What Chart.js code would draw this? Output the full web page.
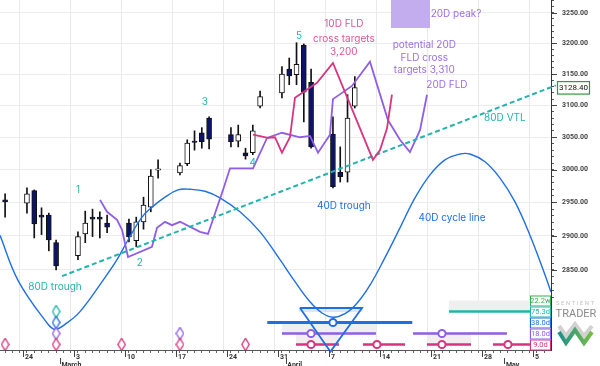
<!DOCTYPE html>
<html>
<head>
<meta charset="utf-8">
<script src="https://cdn.jsdelivr.net/npm/chart.js@4.4.1/dist/chart.umd.min.js"></script>
<style>
html, body { margin: 0; padding: 0; background: #fff; }
#wrap { width: 600px; height: 366px; position: relative; }
</style>
</head>
<body>
<div id="wrap"><canvas id="chart" width="600" height="366"></canvas></div>
<script>
// Days are counted from Mon 24 Feb 00:00, candles sit at mid-day
const candleDays = [-3, 0, 1, 2, 3, 4, 7, 8, 9, 10, 11, 14, 15, 16, 17, 18, 21, 22, 23, 24, 25, 28, 29, 30, 31, 32, 35, 36, 37, 38, 39, 42, 43, 44, 45];
const opens  = [2954, 2949, 2968, 2931, 2931, 2890, 2871, 2903, 2928, 2928, 2919, 2919, 2893, 2921, 2943, 2999, 2995, 3009, 3044, 3057, 3080, 3054, 3044, 3026, 3026, 3099, 3120, 3158, 3149, 3197, 3137, 3055, 2996, 2996, 3099];
const highs  = [2963, 2972, 2969, 2942, 2934, 2894, 2906, 2937, 2940, 2936, 2931, 2925, 2928, 2958, 3000, 3015, 3010, 3046, 3060, 3065, 3082, 3065, 3069, 3033, 3069, 3123, 3162, 3176, 3201, 3199, 3158, 3082, 3035, 3117, 3146];
const lows   = [2928, 2934, 2897, 2902, 2878, 2850, 2865, 2890, 2899, 2897, 2905, 2891, 2884, 2910, 2936, 2987, 2992, 3006, 3030, 3033, 3032, 3035, 3035, 3016, 3023, 3096, 3112, 3133, 3133, 3074, 3033, 2972, 2981, 2981, 3096];
const closes = [2951, 2963, 2918, 2928, 2894, 2856, 2899, 2919, 2925, 2925, 2913, 2899, 2921, 2946, 2990, 3001, 3006, 3041, 3042, 3043, 3047, 3043, 3054, 3021, 3060, 3114, 3150, 3147, 3166, 3121, 3035, 2974, 2989, 3080, 3128.4];

// 40D cycle line
const cycleDays   = [-3.2, -0.73, 3.25, 4.35, 6.0, 7.78, 10.94, 12.86, 14.37, 16.29, 17.67, 19.45, 21.23, 22.88, 24.94, 26.99, 29.74, 32.49, 35.23, 37.29, 39.35, 41.0, 42.5, 44.15, 45.8, 47.58, 49.64, 51.7, 53.76, 55.82, 57.88, 59.94, 61.31, 63.37, 65.43, 67.49, 69.54, 71.6, 72.43];
const cycleValues = [2901, 2835, 2774, 2765, 2774, 2790, 2835, 2865, 2894, 2928, 2943, 2958, 2969, 2970, 2967, 2957, 2936, 2906, 2865, 2833, 2804, 2788, 2782, 2787, 2802, 2828, 2868, 2912, 2957, 2992, 3015, 3024, 3024, 3012, 2987, 2951, 2901, 2843, 2818];

// 20D FLD
const fld20Days   = [10.53, 11.49, 12.86, 13.55, 14.37, 17.66, 18.35, 19.45, 20.41, 21.51, 24.25, 25.35, 27.41, 28.37, 31.53, 33.45, 35.5, 37.98, 39.35, 40.45, 42.09, 42.5, 45.11, 47.58, 50.05, 51.7, 53.07, 54.45, 55.41];
const fld20Values = [2954, 2936, 2924, 2909, 2869, 2884, 2912, 2921, 2916, 2921, 2906, 2903, 2969, 3002, 3002, 3049, 3057, 3050, 3052, 3026, 3054, 3110, 3131, 3170, 3077, 3046, 3027, 3061, 3117];

// 10D FLD
const fld10Days   = [31.53, 33.58, 34.54, 35.5, 36.6, 37.29, 40.31, 42.5, 46.21, 47.99, 48.96, 49.92, 50.6];
const fld10Values = [3054, 3049, 3050, 3026, 3050, 3112, 3136, 3168, 3064, 3015, 3030, 3064, 3117];

// 80D valid trend line (start, end)
const vtlDays   = [5.31, 73.11];
const vtlValues = [2841, 3132];

// "20D peak?" zone
const peakZoneDays   = [50.47, 55.82];
const peakZoneValues = [3225, 3272];

// cycle markers (bottom panel): [from, to, centre]
const pinkSpans   = [[37.43, 43.33, 39.49], [46.62, 52.39, 48.54], [55.41, 61.45, 57.46], [64.47, 69.8, 66.52]];
const purpleSpans = [[35.5, 48.4, 39.49], [53.49, 66.39, 57.46]];
const blueSpans   = [[33.49, 53.39, 42.5]];
const tealSpans   = [[58.43, 72.4, null]];
const shadedSpans = [[35.5, 48.4, 1], [37.43, 43.33, 0], [55.41, 61.45, 0], [58.43, 69.8, 3]];
const pinkTroughs   = [-2.5, 4.5, 13.5, 21.5, 30.5];
const purpleTroughs = [4.5, 21.5];
const blueTroughs   = [4.5];
const tealTroughs   = [4.5];
const triangleDays  = [37.98, 46.49, 42.16, 37.98];
const triangleRows  = [3.32, 3.32, -0.65, 3.32];
const periodLabels  = ['22.2w', '75.3d', '38.0d', '18.0d', '9.0d'];

// axis labels
const weekDays    = [0, 7, 14, 21, 28, 35, 42, 49, 56, 63, 70];
const weekLabels  = ['24', '3', '10', '17', '24', '31', '7', '14', '21', '28', '5'];
const monthDays   = [5, 36, 66];
const monthLabels = ['March', 'April', 'May'];
const lastPrice = closes[closes.length - 1];

const xMin = -3.2, xMax = 72.43;
const yMin = 2735.8, yMax = 3271.6;

const TEAL = '#22b3ad', BLUE = '#1f6fe3', PINK = '#d8347f', PURPLE = '#8f5de6', GREEN = '#35ad55';
const rowColors = [GREEN, TEAL, BLUE, PURPLE, PINK];

function pts(xs, ys) { return xs.map((x, i) => ({x: x, y: ys[i]})); }

function spanLine(spans, row) {
    const out = [];
    spans.forEach(s => {
        out.push({x: s[0], y: row}, {x: s[1], y: row}, {x: s[1] + 0.01, y: null});
    });
    return out;
}

function diamond(color) {
    const c = document.createElement('canvas');
    c.width = 9; c.height = 14;
    const g = c.getContext('2d');
    g.beginPath();
    g.moveTo(4.5, 0.8); g.lineTo(8.2, 7); g.lineTo(4.5, 13.2); g.lineTo(0.8, 7); g.closePath();
    g.fillStyle = '#fff'; g.fill();
    g.lineWidth = 1.3; g.strokeStyle = color; g.stroke();
    return c;
}

// scales must not reserve room for half-labels at their ends
function noPadding(s) {
    s.paddingTop = 0; s.paddingBottom = 0; s.paddingLeft = 0; s.paddingRight = 0;
}

const candleColors = closes.map((c, i) => c >= opens[i] ? '#ffffff' : '#0c1466');

const datasets = [
    // candles
    {
        type: 'bar', label: 'wick', order: 6, grouped: false, barThickness: 1,
        backgroundColor: '#111',
        data: candleDays.map((d, i) => ({x: d + 0.5, y: [lows[i], highs[i]]}))
    },
    {
        type: 'bar', label: 'body', order: 5, grouped: false, barThickness: 5,
        backgroundColor: candleColors, borderColor: '#111', borderWidth: 1, borderSkipped: false,
        data: candleDays.map((d, i) => ({x: d + 0.5, y: [Math.min(opens[i], closes[i]), Math.max(opens[i], closes[i])]}))
    },
    // peak zone
    {
        type: 'line', order: 9, data: pts(peakZoneDays, [peakZoneValues[1], peakZoneValues[1]]),
        borderWidth: 0, pointRadius: 0, backgroundColor: '#c4adef', fill: {value: peakZoneValues[0]}
    },
    {
        type: 'line', label: '40D cycle line', order: 3, data: pts(cycleDays, cycleValues),
        borderColor: BLUE, borderWidth: 1.4, pointRadius: 0, tension: 0.4, fill: false
    },
    {
        type: 'line', label: '80D VTL', order: 2, data: pts(vtlDays, vtlValues), clip: 8,
        borderColor: TEAL, borderWidth: 2, borderDash: [5, 3], pointRadius: 0, fill: false
    },
    {
        type: 'line', label: '20D FLD', order: 2, data: pts(fld20Days, fld20Values),
        borderColor: PURPLE, borderWidth: 1.8, pointRadius: 0, tension: 0, fill: false
    },
    {
        type: 'line', label: '10D FLD', order: 1, data: pts(fld10Days, fld10Values),
        borderColor: PINK, borderWidth: 1.8, pointRadius: 0, tension: 0, fill: false
    }
];

// shaded boxes in the bottom panel
shadedSpans.forEach(s => {
    datasets.push({
        type: 'line', order: 10, yAxisID: 'y2', data: [{x: s[0], y: s[2] + 1}, {x: s[1], y: s[2] + 1}],
        borderWidth: 0, pointRadius: 0, backgroundColor: '#efefef', fill: {value: s[2]}
    });
});
datasets.push({
    type: 'line', order: 9, yAxisID: 'y2', data: [{x: 37.8, y: 3.41}, {x: 46.6, y: 3.41}],
    borderWidth: 0, pointRadius: 0, backgroundColor: 'rgba(31,111,227,0.16)', fill: {value: 2.95}
});

[[pinkSpans, 0, PINK], [purpleSpans, 1, PURPLE], [blueSpans, 2, BLUE], [tealSpans, 3, TEAL]].forEach(r => {
    datasets.push({
        type: 'line', order: 4, yAxisID: 'y2', data: spanLine(r[0], r[1]), spanGaps: false,
        borderColor: r[2], borderWidth: r[1] === 2 ? 3 : 2.4, pointRadius: 0, fill: false
    });
    const centres = r[0].filter(s => s[2] !== null).map(s => ({x: s[2], y: r[1]}));
    datasets.push({
        type: 'scatter', order: 0, yAxisID: 'y2', data: centres,
        pointStyle: 'circle', pointRadius: 3.6, pointBorderWidth: 2,
        pointBorderColor: r[2], pointBackgroundColor: '#fff'
    });
});

[[pinkTroughs, 0, PINK], [purpleTroughs, 1, PURPLE], [blueTroughs, 2, BLUE], [tealTroughs, 3, TEAL]].forEach(r => {
    datasets.push({
        type: 'scatter', order: 0, yAxisID: 'y2', data: r[0].map(d => ({x: d, y: r[1]})),
        pointStyle: diamond(r[2])
    });
});

datasets.push({
    type: 'line', order: 3, yAxisID: 'y2', data: pts(triangleDays, triangleRows), clip: 6,
    borderColor: BLUE, borderWidth: 1.8, pointRadius: 0, tension: 0, fill: false
});

// text placed in data coordinates
const notes = [
    {t: '1', d: 7.5, v: 2969, c: TEAL},
    {t: '2', d: 16.0, v: 2860, c: TEAL},
    {t: '3', d: 24.9, v: 3105, c: TEAL},
    {t: '4', d: 31.5, v: 3010, c: TEAL},
    {t: '5', d: 37.84, v: 3212, c: TEAL},
    {t: '80D trough', d: 4.35, v: 2825, c: TEAL},
    {t: '80D VTL', d: 66.1, v: 3080, c: TEAL},
    {t: '40D trough', d: 44.0, v: 2945, c: BLUE},
    {t: '40D cycle line', d: 58.84, v: 2927, c: BLUE},
    {t: '10D FLD', d: 44.0, v: 3232, c: '#df5596'},
    {t: 'cross targets', d: 44.0, v: 3207, c: '#df5596'},
    {t: '3,200', d: 44.0, v: 3186, c: '#df5596'},
    {t: 'potential 20D', d: 55.04, v: 3197, c: '#9b6fe6'},
    {t: 'FLD cross', d: 55.04, v: 3176, c: '#9b6fe6'},
    {t: 'targets 3,310', d: 55.04, v: 3157, c: '#9b6fe6'},
    {t: '20D FLD', d: 58.15, v: 3133, c: '#9b6fe6'},
    {t: '20D peak?', d: 59.39, v: 3248, c: '#9b6fe6'}
];

const overlayPlugin = {
    id: 'overlay',
    afterDraw(chart) {
        const g = chart.ctx, x = chart.scales.x, y = chart.scales.y, y2 = chart.scales.y2;
        const area = chart.chartArea;
        g.save();
        // notes
        g.font = '10px Inter, "Noto Sans", sans-serif';
        g.textAlign = 'center';
        g.textBaseline = 'middle';
        notes.forEach(n => {
            g.fillStyle = n.c;
            g.fillText(n.t, x.getPixelForValue(n.d), y.getPixelForValue(n.v));
        });
        // longer ticks on the axes
        g.strokeStyle = '#444';
        g.lineWidth = 1;
        weekDays.forEach(d => {
            const px = Math.round(x.getPixelForValue(d)) + 0.5;
            g.beginPath(); g.moveTo(px, area.bottom); g.lineTo(px, area.bottom + 7); g.stroke();
        });
        monthDays.forEach(d => {
            const px = Math.round(x.getPixelForValue(d)) + 0.5;
            g.beginPath(); g.moveTo(px, area.bottom + 8); g.lineTo(px, area.bottom + 14); g.stroke();
        });
        y.ticks.forEach(t => {
            if (t.value % 50 !== 0) return;
            const py = Math.round(y.getPixelForValue(t.value)) + 0.5;
            g.beginPath(); g.moveTo(area.right, py); g.lineTo(area.right + 6, py); g.stroke();
        });
        // cycle period labels
        g.font = '7.5px Roboto, sans-serif';
        periodLabels.forEach((lab, i) => {
            const row = 4 - i;
            const py = y2.getPixelForValue(row);
            g.fillStyle = '#fff';
            g.fillRect(area.right - 21, py - 5, 20, 10);
            g.strokeStyle = rowColors[i];
            g.strokeRect(area.right - 20.5, py - 4.5, 20, 10);
            g.fillStyle = rowColors[i];
            g.textAlign = 'center';
            g.fillText(lab, area.right - 10.5, py + 0.5);
        });
        // last price box
        const lp = y.getPixelForValue(lastPrice);
        g.fillStyle = '#fff';
        g.fillRect(557, lp - 6.5, 33, 13);
        g.strokeStyle = '#2f9a3c';
        g.lineWidth = 1.2;
        g.strokeRect(557.5, lp - 6, 32, 12.5);
        g.fillStyle = '#111';
        g.font = '8px Roboto, sans-serif';
        g.fillText(lastPrice.toFixed(2), 573.5, lp + 0.5);
        // logo
        g.textAlign = 'center';
        g.fillStyle = '#c4c4c4';
        g.font = '6px Roboto, sans-serif';
        g.fillText('S E N T I E N T', 575, 303);
        g.fillStyle = '#8a8a8a';
        g.font = '11px Roboto, sans-serif';
        g.fillText('TRADER', 576, 314);
        const grad = g.createLinearGradient(558, 0, 594, 0);
        grad.addColorStop(0, '#1f8f8a');
        grad.addColorStop(1, '#79c043');
        g.lineWidth = 4;
        g.strokeStyle = '#d2d2d2';
        g.beginPath(); g.moveTo(559, 326); g.lineTo(566, 336); g.lineTo(575, 324); g.lineTo(584, 336); g.lineTo(592, 326); g.stroke();
        g.strokeStyle = grad;
        g.beginPath(); g.moveTo(559, 332); g.lineTo(566, 343); g.lineTo(575, 330); g.lineTo(584, 343); g.lineTo(592, 332); g.stroke();
        g.restore();
    }
};

new Chart(document.getElementById('chart'), {
    type: 'bar',
    data: {datasets: datasets},
    options: {
        responsive: false,
        animation: false,
        layout: {padding: 0, autoPadding: false},
        plugins: {legend: {display: false}, tooltip: {enabled: false}},
        scales: {
            x: {
                type: 'linear', min: xMin, max: xMax, offset: false, bounds: 'data',
                afterBuildTicks: s => {
                    const t = [];
                    for (let d = -3; d <= 72; d++) t.push({value: d});
                    s.ticks = t;
                },
                afterFit: s => { s.height = 16; noPadding(s); },
                grid: {
                    color: c => (c.tick && weekDays.includes(c.tick.value)) ? '#e9e9e9' : 'rgba(0,0,0,0)',
                    tickColor: '#666', tickLength: 3
                },
                border: {color: '#555'},
                ticks: {
                    autoSkip: false, maxRotation: 0, align: 'start', padding: 1, color: '#333',
                    font: {size: 7, weight: 'bold', family: 'Roboto', lineHeight: 1.05},
                    callback: v => {
                        let i = weekDays.indexOf(v);
                        if (i >= 0) return ' ' + weekLabels[i];
                        i = monthDays.indexOf(v);
                        if (i >= 0) return ['', ' ' + monthLabels[i]];
                        return '';
                    }
                }
            },
            y: {
                type: 'logarithmic', position: 'right', min: yMin, max: yMax, bounds: 'data',
                afterBuildTicks: s => {
                    const t = [];
                    for (let v = 2810; v <= 3270; v += 10) t.push({value: v});
                    s.ticks = t;
                },
                afterFit: s => { s.width = 49; noPadding(s); },
                grid: {
                    color: c => (c.tick && c.tick.value % 50 === 0 && c.tick.value >= 2850) ? '#ececec' : 'rgba(0,0,0,0)',
                    tickColor: '#555', tickLength: 3
                },
                border: {color: '#333'},
                ticks: {
                    autoSkip: false, padding: 8, color: '#444',
                    font: {size: 7, weight: 'bold', family: 'Roboto'},
                    callback: v => (v % 50 === 0 && v >= 2850) ? v.toFixed(2) : ''
                }
            },
            y2: {type: 'linear', display: false, min: -0.5, max: -0.5 + 350 / 11}
        }
    },
    plugins: [overlayPlugin]
});
</script>
</body>
</html>
